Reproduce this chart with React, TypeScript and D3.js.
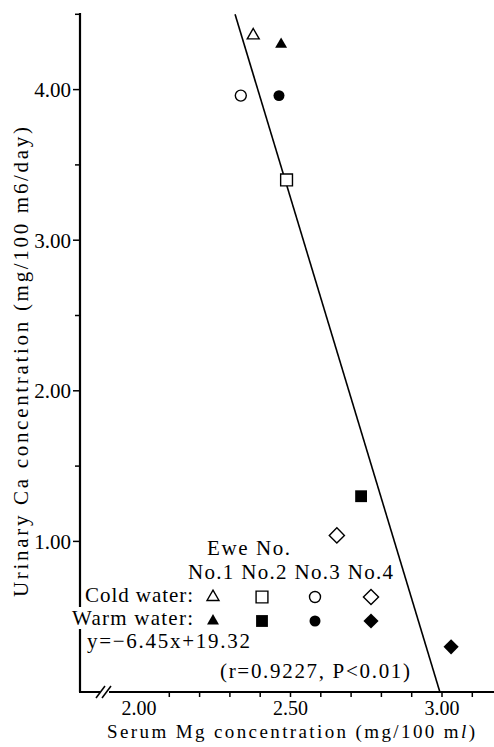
import React from 'react';
import * as d3 from 'd3';

// values
const ewes = ['No.1', 'No.2', 'No.3', 'No.4'];
const coldMg = [2.377, 2.487, 2.336, 2.653];
const coldCa = [4.36, 3.40, 3.96, 1.04];
const warmMg = [2.469, 2.733, 2.462, 3.03];
const warmCa = [4.30, 1.30, 3.96, 0.30];
const fitLine = [[2.317, 4.5], [2.993, 0.0]];
const xTickLabels = [2.0, 2.5, 3.0];
const xTickMarks = [2.1, 2.2, 2.3, 2.4, 2.5, 2.6, 2.7, 2.8, 2.9, 3.0, 3.1];
const yTickLabels = [1.0, 2.0, 3.0, 4.0];
const yMinorTicks = [0.5, 1.5, 2.5, 3.5, 4.5];
const shapes = [d3.symbolTriangle, d3.symbolSquare, d3.symbolCircle, 'diamond'];
const sizes = [62, 140, 95, 115];

const W = 494, H = 747;
const font = "'Liberation Serif', 'Times New Roman', Times, serif";

const symPath = (i: number) => {
    const s = shapes[i];
    if (s === 'diamond') return d3.symbol(d3.symbolSquare, sizes[i])();
    return d3.symbol(s as d3.SymbolType, sizes[i])();
};
const symRot = (i: number) => (shapes[i] === 'diamond' ? 45 : 0);

const Marker = ({ i, cx, cy, filled }: { i: number; cx: number; cy: number; filled: boolean }) => (
    <path
        d={symPath(i) || ''}
        transform={`translate(${cx},${cy}) rotate(${symRot(i)})`}
        fill={filled ? '#000' : '#fff'}
        stroke="#000"
        strokeWidth={filled ? 0 : 1.4}
    />
);

export default function App() {
    const x = d3.scaleLinear().domain([2, 3]).range([139, 442]);
    const y = d3.scaleLinear().domain([0, 4]).range([692, 89.6]);
    const x0 = 80, y0 = 692;

    const line = d3.line<number[]>()
        .x((d) => x(d[0]))
        .y((d) => y(d[1]));

    const legX = [213, 262, 315, 371];

    return (
        <svg width={W} height={H} style={{ position: 'absolute', left: 0, top: 0, background: '#fff', fontFamily: font }}
            fill="#000">
            {/* y axis */}
            <line x1={x0} x2={x0} y1={13} y2={y0} stroke="#000" strokeWidth={2.2} />
            {yTickLabels.map((v) => (
                <g key={'yt' + v}>
                    <line x1={x0 - 7} x2={x0} y1={y(v)} y2={y(v)} stroke="#000" strokeWidth={1.5} />
                    <text x={71} y={y(v)} dy="0.35em" textAnchor="end" fontSize={21}>{v.toFixed(2)}</text>
                </g>
            ))}
            {yMinorTicks.map((v) => (
                <line key={'ym' + v} x1={x0 - 5} x2={x0} y1={y(v)} y2={y(v)} stroke="#000" strokeWidth={1.5} />
            ))}

            {/* x axis */}
            <line x1={x0 - 1} x2={W} y1={y0} y2={y0} stroke="#000" strokeWidth={2.2} />
            {xTickMarks.map((v) => (
                <line key={'xm' + v} x1={x(v)} x2={x(v)} y1={y0} y2={y0 + 5} stroke="#000" strokeWidth={1.5} />
            ))}
            {xTickLabels.map((v) => (
                <text key={'xt' + v} x={x(v)} y={715} textAnchor="middle" fontSize={20}>{v.toFixed(2)}</text>
            ))}
            {/* axis break */}
            <rect x={100} y={686} width={9} height={12} fill="#fff" />
            <line x1={96} x2={105} y1={698} y2={686} stroke="#000" strokeWidth={1.5} />
            <line x1={102} x2={111} y1={698} y2={686} stroke="#000" strokeWidth={1.5} />

            {/* axis titles */}
            <text x={291} y={738} textAnchor="middle" fontSize={19} textLength={368} lengthAdjust="spacing">
                Serum Mg concentration (mg/100 m<tspan fontStyle="italic">l</tspan>)
            </text>
            <text transform="translate(28,362) rotate(-90)" textAnchor="middle" fontSize={21}
                textLength={470} lengthAdjust="spacing">
                Urinary Ca concentration (mg/100 m6/day)
            </text>

            {/* regression line */}
            <path d={line(fitLine) || ''} fill="none" stroke="#000" strokeWidth={1.6} />

            {/* data */}
            {ewes.map((e, i) => (
                <g key={'d' + e}>
                    <Marker i={i} cx={x(coldMg[i])} cy={y(coldCa[i])} filled={false} />
                    <Marker i={i} cx={x(warmMg[i])} cy={y(warmCa[i])} filled={true} />
                </g>
            ))}

            {/* legend */}
            <text x={207} y={555} fontSize={21} textLength={83} lengthAdjust="spacing">Ewe No.</text>
            <text x={188} y={579} fontSize={21} textLength={205} lengthAdjust="spacing">{ewes.join(' ')}</text>
            <text x={85} y={602} fontSize={21} textLength={108} lengthAdjust="spacing">Cold water:</text>
            <rect x={70} y={607} width={125} height={22} fill="#fff" />
            <text x={72} y={625} fontSize={21} textLength={121} lengthAdjust="spacing">Warm water:</text>
            {ewes.map((e, i) => (
                <g key={'l' + e}>
                    <Marker i={i} cx={legX[i]} cy={597} filled={false} />
                    <Marker i={i} cx={legX[i]} cy={621} filled={true} />
                </g>
            ))}
            <text x={87} y={648} fontSize={21} textLength={163} lengthAdjust="spacing">y=−6.45x+19.32</text>
            <text x={220} y={678} fontSize={21} textLength={190} lengthAdjust="spacing">(r=0.9227,  P&lt;0.01)</text>
        </svg>
    );
}
